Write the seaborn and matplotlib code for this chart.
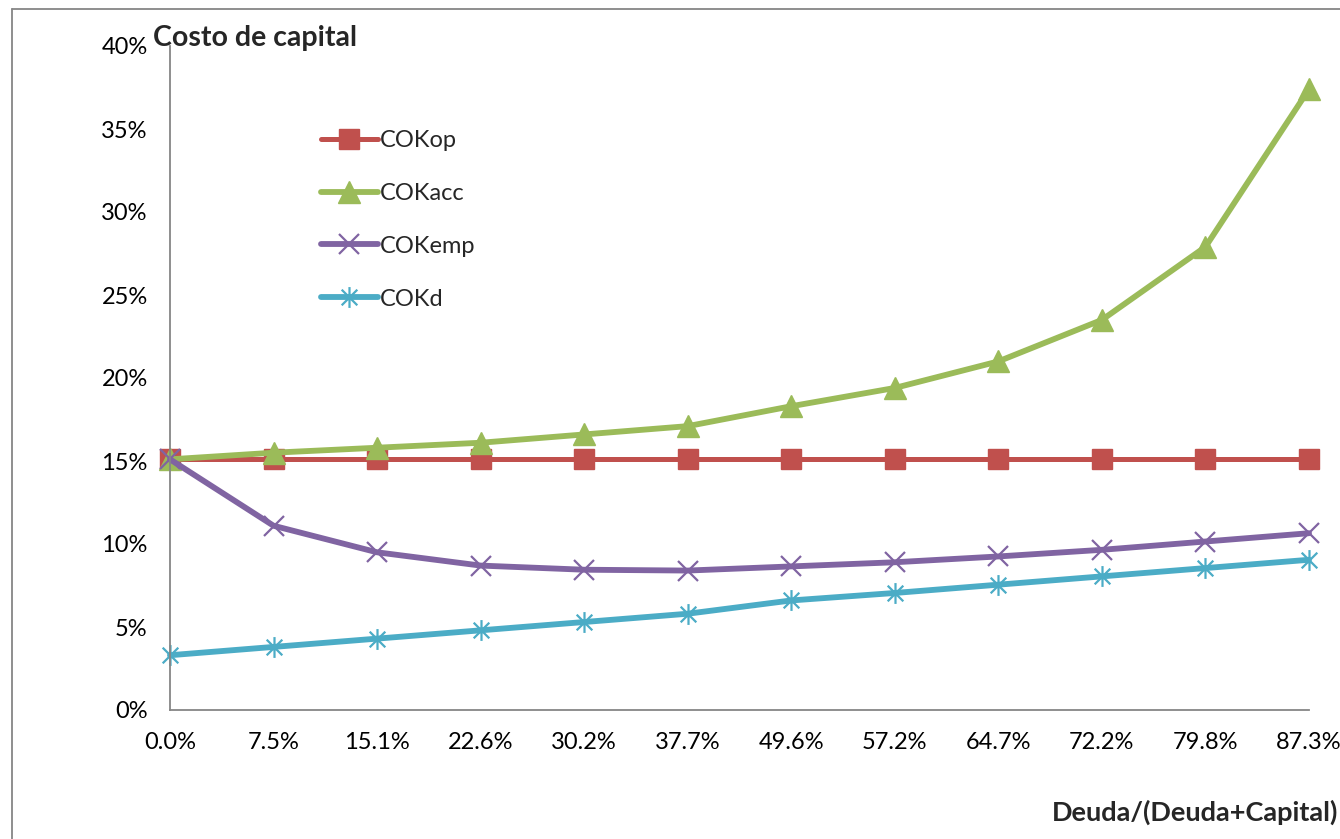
import matplotlib
matplotlib.use("Agg")
import matplotlib.pyplot as plt
from matplotlib.path import Path
from matplotlib.lines import Line2D
from matplotlib.ticker import PercentFormatter, MultipleLocator
import seaborn as sns

# Debt ratio categories (x axis)
ratios = ["0.0%", "7.5%", "15.1%", "22.6%", "30.2%", "37.7%",
          "49.6%", "57.2%", "64.7%", "72.2%", "79.8%", "87.3%"]

# Cost of capital series, in percent
cok_op = [15.1, 15.1, 15.1, 15.1, 15.1, 15.1, 15.1, 15.1, 15.1, 15.1, 15.1, 15.1]
cok_acc = [15.1, 15.5, 15.8, 16.1, 16.6, 17.1, 18.3, 19.4, 21.0, 23.5, 27.9, 37.4]
cok_emp = [15.1, 11.1, 9.5, 8.7, 8.45, 8.4, 8.65, 8.9, 9.25, 9.65, 10.15, 10.65]
cok_d = [3.3, 3.8, 4.3, 4.8, 5.3, 5.8, 6.6, 7.05, 7.55, 8.05, 8.55, 9.05]

series_names = ["COKop", "COKacc", "COKemp", "COKd"]

sns.set_style("white")
plt.rcParams["font.family"] = ["Lato", "DejaVu Sans"]

# Asterisk marker: an "x" crossed by a vertical bar
asterisk = Path(
    [(0, -1), (0, 1), (-0.75, -0.75), (0.75, 0.75), (-0.75, 0.75), (0.75, -0.75)],
    [Path.MOVETO, Path.LINETO, Path.MOVETO, Path.LINETO, Path.MOVETO, Path.LINETO],
)

styles = [
    dict(color="#C0504D", marker="s", markersize=14, linewidth=3.6, mew=1.0, mfc="#C0504D"),
    dict(color="#9BBB59", marker="^", markersize=16, linewidth=4.2, mew=1.0, mfc="#9BBB59"),
    dict(color="#8064A2", marker="x", markersize=14, linewidth=4.2, mew=1.6, mfc="none"),
    dict(color="#4BACC6", marker=asterisk, markersize=15, linewidth=4.2, mew=1.6, mfc="none"),
]

W, H = 1340, 839
fig = plt.figure(figsize=(W / 100, H / 100), dpi=100)
ax = fig.add_axes([170 / W, 1 - 710 / H, 1139 / W, 664 / H])

for name, vals, st in zip(series_names, [cok_op, cok_acc, cok_emp, cok_d], styles):
    sns.lineplot(
        x=ratios, y=vals, ax=ax, sort=False, label=name,
        color=st["color"], marker=st["marker"], markersize=st["markersize"],
        linewidth=st["linewidth"], mec=st["color"], mew=st["mew"],
        mfc=st["mfc"], clip_on=False,
    )

axis_gray = "#868686"
ax.set_xlim(0, len(ratios) - 1)
ax.set_ylim(0, 40)
ax.yaxis.set_major_locator(MultipleLocator(5))
ax.yaxis.set_major_formatter(PercentFormatter(xmax=100, decimals=0))
ax.set_xlabel("")
ax.set_ylabel("")

for side in ["top", "right"]:
    ax.spines[side].set_visible(False)
for side in ["left", "bottom"]:
    ax.spines[side].set_color(axis_gray)
    ax.spines[side].set_linewidth(1.3)

ax.tick_params(axis="both", which="major", direction="out", length=5,
               width=1.1, color=axis_gray, labelsize=17, labelcolor="black")
ax.tick_params(axis="x", pad=11)
ax.tick_params(axis="y", pad=11)

# Legend without frame, stacked vertically
handles, labels = ax.get_legend_handles_labels()
ax.legend(handles, labels, loc="upper left",
          bbox_to_anchor=(321 / W, 1 - 130 / H), bbox_transform=fig.transFigure,
          frameon=False, fontsize=17, handlelength=2.4, handletextpad=0.08,
          labelspacing=1.35, borderpad=0, borderaxespad=0, numpoints=1)

# Chart title and axis title
fig.text(153 / W, 1 - 38 / H, "Costo de capital", fontsize=20.5, fontweight="bold",
         ha="left", va="center")
fig.text(1338 / W, 1 - 812 / H, "Deuda/(Deuda+Capital)", fontsize=19.5,
         fontweight="bold", ha="right", va="center")

# Chart area border (left and top edges)
fig.add_artist(Line2D([12 / W, 12 / W], [0, 1 - 9 / H], transform=fig.transFigure,
                      color=axis_gray, linewidth=1.3))
fig.add_artist(Line2D([12 / W, 1], [1 - 9 / H, 1 - 9 / H], transform=fig.transFigure,
                      color=axis_gray, linewidth=1.3))

fig.savefig("out.png", dpi=100, facecolor="white")
